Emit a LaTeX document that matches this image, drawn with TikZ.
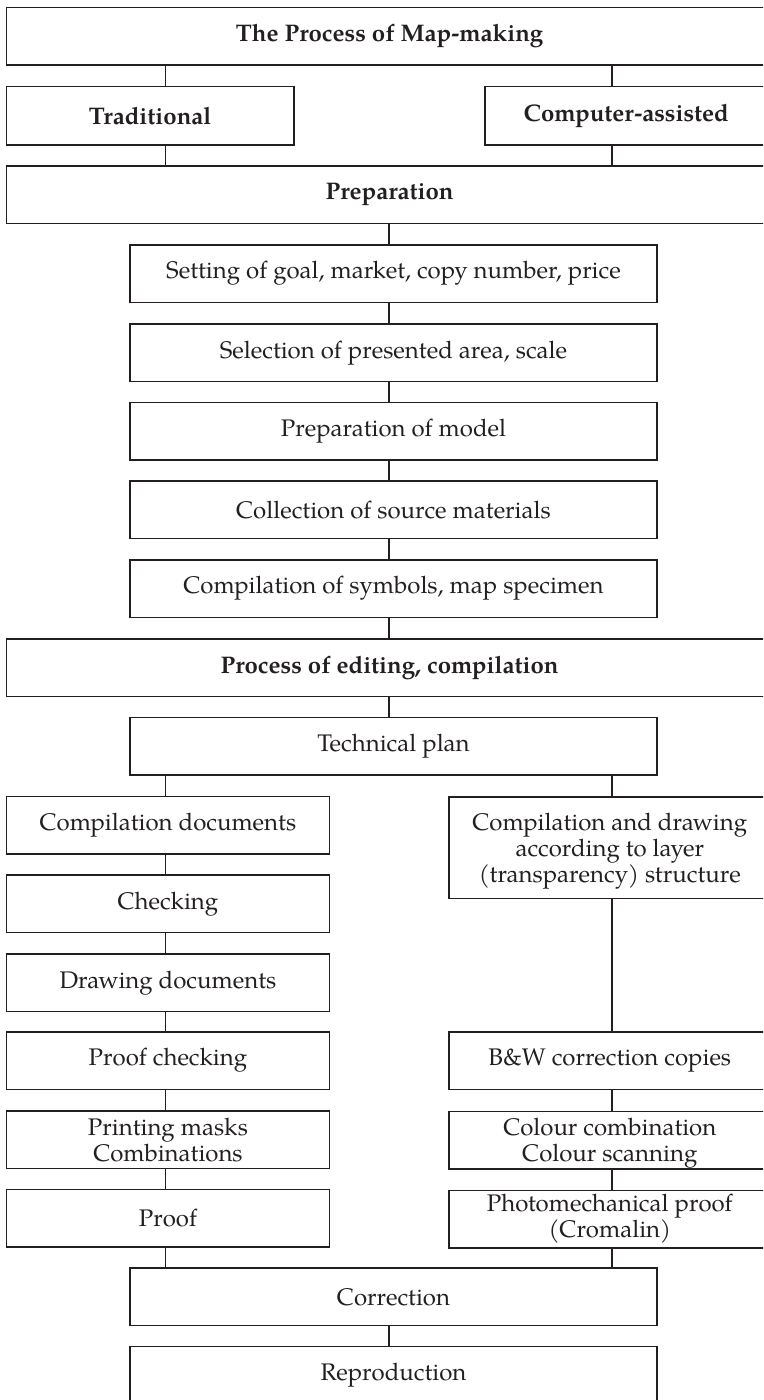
\documentclass[tikz,border=0pt]{standalone}
\usepackage{fontspec}
\setmainfont{texgyrepagella}[Extension=.otf, UprightFont=*-regular, BoldFont=*-bold, ItalicFont=*-italic, BoldItalicFont=*-bolditalic]
\definecolor{ink}{HTML}{231F20}
\begin{document}
\begin{tikzpicture}[x=1pt,y=-1pt,
  box/.style={draw=ink, line width=1.6pt, rectangle, inner sep=0pt, anchor=north west, align=center, text=ink, font=\fontsize{24}{26}\selectfont},
  hd/.style={box, font=\fontsize{24}{26}\selectfont\bfseries},
  full/.style={minimum width=766pt, minimum height=57.5pt},
  mid/.style={minimum width=526.6pt, minimum height=57.5pt},
  lft/.style={minimum width=322.7pt, minimum height=57.5pt},
  rgt/.style={minimum width=322pt, minimum height=57.5pt},
  link/.style={draw=ink, line width=1.6pt}]
\useasboundingbox (0,0) rectangle (763,1400);
\clip (0,0) rectangle (763,1400);
\coordinate (xl) at (165.5,0);
\coordinate (xr) at (611.7,0);
\coordinate (xc) at (389,0);
% header
\node[hd, full] (top) at (5.8,6.7) {The Process of Map-making};
\node[hd, minimum width=287.2pt, minimum height=58.3pt] (trad) at (5.8,85.7) {Traditional};
\node[hd, minimum width=283pt, minimum height=58.3pt] (comp) at (484,85.7) {Computer-assisted};
\node[hd, full] (prep) at (5.8,165) {Preparation};
% preparation chain
\node[box, mid] (set) at (129.4,244) {Setting of goal, market, copy number, price};
\node[box, mid] (sel) at (129.4,323.3) {Selection of presented area, scale};
\node[box, mid] (model) at (129.4,401.7) {Preparation of model};
\node[box, mid] (coll) at (129.4,480) {Collection of source materials};
\node[box, mid] (sym) at (129.4,559) {Compilation of symbols, map specimen};
\node[hd, full] (edit) at (5.8,638.3) {Process of editing, compilation};
\node[box, mid] (tech) at (129.4,716.7) {Technical plan};
% left column
\node[box, lft] (cdoc) at (5.8,795.7) {Compilation documents};
\node[box, lft] (check) at (5.8,874.3) {Checking};
\node[box, lft] (ddoc) at (5.8,953.3) {Drawing documents};
\node[box, lft] (pcheck) at (5.8,1031) {Proof checking};
\node[box, lft] (mask) at (5.8,1110) {Printing masks\\Combinations};
\node[box, lft] (proof) at (5.8,1188.7) {Proof};
% right column
\node[box, rgt, minimum height=101.5pt] (cdraw) at (448,796.3) {\rule{0pt}{24.3pt}Compilation and drawing\\according to layer\\(transparency) structure};
\node[box, rgt] (bw) at (448,1031) {B\&W correction copies};
\node[box, rgt] (colour) at (448,1110.7) {\rule{0pt}{23pt}Colour combination\\Colour scanning};
\node[box, rgt] (photo) at (448,1189.5) {Photomechanical proof\\(Cromalin)};
% bottom
\node[box, mid] (corr) at (129.4,1267.3) {Correction};
\node[box, mid] (repro) at (129.4,1345.7) {Reproduction};
% connectors
\draw[link] (top.south -| xl) -- (trad.north -| xl);
\draw[link] (top.south -| xr) -- (comp.north -| xr);
\draw[link] (trad.south -| xl) -- (prep.north -| xl);
\draw[link] (comp.south -| xr) -- (prep.north -| xr);
\draw[link] (prep.south -| xc) -- (set.north -| xc);
\draw[link] (set.south -| xc) -- (sel.north -| xc);
\draw[link] (sel.south -| xc) -- (model.north -| xc);
\draw[link] (model.south -| xc) -- (coll.north -| xc);
\draw[link] (coll.south -| xc) -- (sym.north -| xc);
\draw[link] (sym.south -| xc) -- (edit.north -| xc);
\draw[link] (edit.south -| xc) -- (tech.north -| xc);
\draw[link] (tech.south -| xl) -- (cdoc.north -| xl);
\draw[link] (tech.south -| xr) -- (cdraw.north -| xr);
\draw[link] (cdoc.south -| xl) -- (check.north -| xl);
\draw[link] (check.south -| xl) -- (ddoc.north -| xl);
\draw[link] (ddoc.south -| xl) -- (pcheck.north -| xl);
\draw[link] (pcheck.south -| xl) -- (mask.north -| xl);
\draw[link] (mask.south -| xl) -- (proof.north -| xl);
\draw[link] (cdraw.south -| xr) -- (bw.north -| xr);
\draw[link] (bw.south -| xr) -- (colour.north -| xr);
\draw[link] (colour.south -| xr) -- (photo.north -| xr);
\draw[link] (proof.south -| xl) -- (corr.north -| xl);
\draw[link] (photo.south -| xr) -- (corr.north -| xr);
\draw[link] (corr.south -| xc) -- (repro.north -| xc);
\end{tikzpicture}
\end{document}
